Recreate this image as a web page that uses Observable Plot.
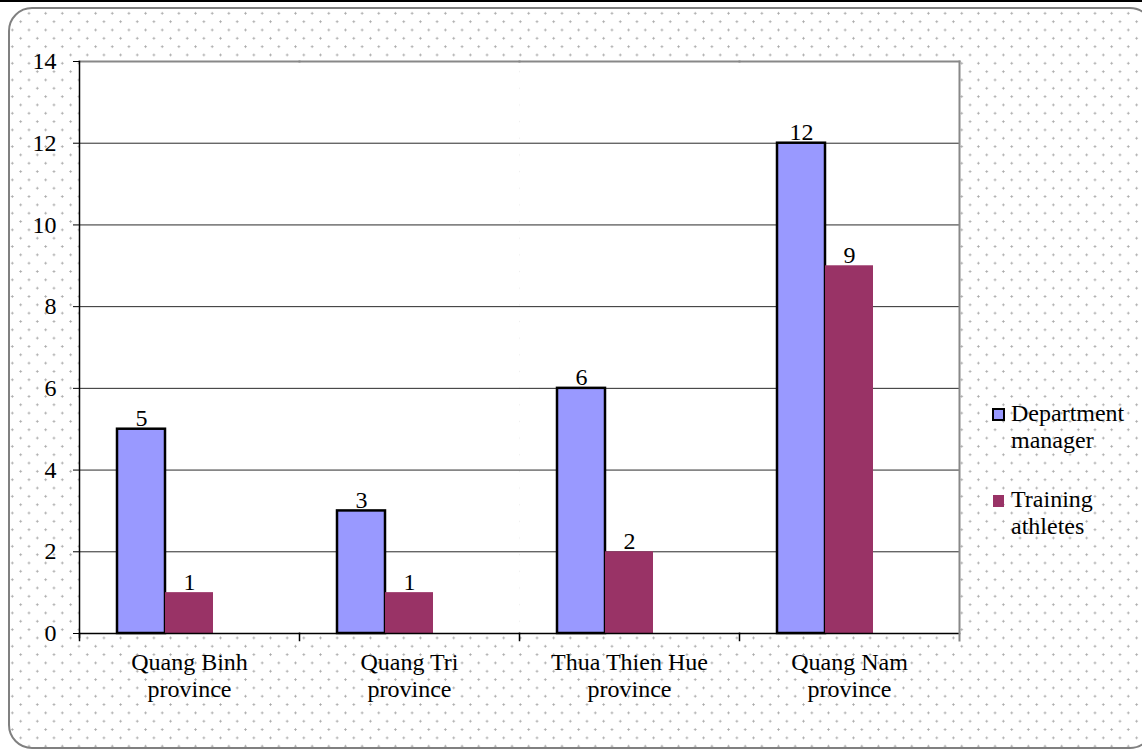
<!DOCTYPE html>
<html>
<head>
<meta charset="utf-8">
<script src="https://cdn.jsdelivr.net/npm/d3@7"></script>
<script src="https://cdn.jsdelivr.net/npm/@observablehq/plot@0.6"></script>
<style>
html, body { margin: 0; padding: 0; background: #fff; }
#wrap { position: relative; width: 1142px; height: 751px; overflow: hidden; font-family: "Liberation Serif", "Times New Roman", serif; }
#topline { position: absolute; left: 0; top: 0; width: 1142px; height: 2px; background: #000; }
#box { position: absolute; left: 8px; top: 7px; width: 1142px; height: 738px; border: 2px solid #808080; border-radius: 24px;
  background-image: radial-gradient(circle, #aaa 0 0.9px, transparent 1.3px), radial-gradient(circle, #aaa 0 0.9px, transparent 1.3px);
  background-size: 16.67px 16.67px; background-position: -6px -4px, 2.33px 4.33px; }
#chart { position: absolute; left: 0; top: 0; }
#legend { position: absolute; left: 992px; top: 400px; font-size: 24px; line-height: 27px; color: #000; }
.item { position: relative; padding-left: 19px; width: 125px; margin-bottom: 32px; }
.sw { position: absolute; left: 0; box-sizing: border-box; }
</style>
</head>
<body>
<div id="wrap">
  <div id="topline"></div>
  <div id="box"></div>
  <div id="chart"></div>
  <div id="legend"></div>
</div>
<script>
const categories = ["Quang Binh province", "Quang Tri province", "Thua Thien Hue province", "Quang Nam province"];
const seriesNames = ["Department manager", "Training athletes"];
const departmentManager = [5, 3, 6, 12];
const trainingAthletes = [1, 1, 2, 9];
const yTicks = [0, 2, 4, 6, 8, 10, 12, 14];
const seriesColors = ["#9999ff", "#993366"];

const data = categories.flatMap((c, i) => [
  {category: c, series: seriesNames[0], value: departmentManager[i]},
  {category: c, series: seriesNames[1], value: trainingAthletes[i]}
]);

const chart = Plot.plot({
  width: 1142, height: 751,
  marginLeft: 78, marginRight: 182, marginTop: 61, marginBottom: 118,
  style: {background: "transparent", fontFamily: '"Liberation Serif", "Times New Roman", serif', fontSize: "24px", color: "#000", overflow: "visible"},
  fx: {domain: categories, padding: 0, label: null},
  x: {domain: [...seriesNames, " "], paddingInner: 0, paddingOuter: 0.75, axis: null},
  y: {domain: [0, 14], label: null},
  color: {domain: seriesNames, range: seriesColors},
  marks: [
    Plot.frame({fill: "white", stroke: null}),
    Plot.gridY(yTicks.filter(t => t > 0 && t < 14), {stroke: "#2a2a2a", strokeOpacity: 1}),
    Plot.barY(data.filter(d => d.series === seriesNames[0]), {fx: "category", x: "series", y: "value", fill: "series", stroke: "black", strokeWidth: 2.5}),
    Plot.barY(data.filter(d => d.series === seriesNames[1]), {fx: "category", x: "series", y: "value", fill: "series"}),
    Plot.text(data, {fx: "category", x: "series", y: "value", text: "value", lineAnchor: "bottom", dy: -3, fill: "black"}),
    Plot.frame({anchor: "top", stroke: "#888", strokeWidth: 2}),
    Plot.frame({anchor: "bottom", stroke: "black", strokeWidth: 1.5}),
    Plot.frame({anchor: "left", stroke: "black", strokeWidth: 1.5, insetBottom: -4, facetAnchor: "left"}),
    Plot.frame({anchor: "left", stroke: "black", strokeWidth: 1.5, insetTop: 572, insetBottom: -7}),
    Plot.frame({anchor: "right", stroke: "#888", strokeWidth: 2, insetBottom: -7, facetAnchor: "right"}),
    Plot.axisY({ticks: yTicks, tickSize: 6, tickPadding: 17, label: null, tickFormat: d => String(d), stroke: "black"}),
    Plot.axisFx({anchor: "bottom", tickSize: 0, tickPadding: 17, label: null, lineHeight: 1.13, tickFormat: d => d.replace(" province", "\nprovince")})
  ]
});
document.getElementById("chart").appendChild(chart);

const legend = document.getElementById("legend");
seriesNames.forEach((name, i) => {
  const item = document.createElement("div");
  item.className = "item";
  const sw = document.createElement("span");
  sw.className = "sw";
  sw.style.background = seriesColors[i];
  if (i === 0) { sw.style.top = "8px"; sw.style.width = "13px"; sw.style.height = "13px"; sw.style.border = "2px solid #000"; }
  else { sw.style.top = "9px"; sw.style.left = "1px"; sw.style.width = "11px"; sw.style.height = "12px"; }
  item.appendChild(sw);
  item.appendChild(document.createTextNode(name));
  legend.appendChild(item);
});
</script>
</body>
</html>
